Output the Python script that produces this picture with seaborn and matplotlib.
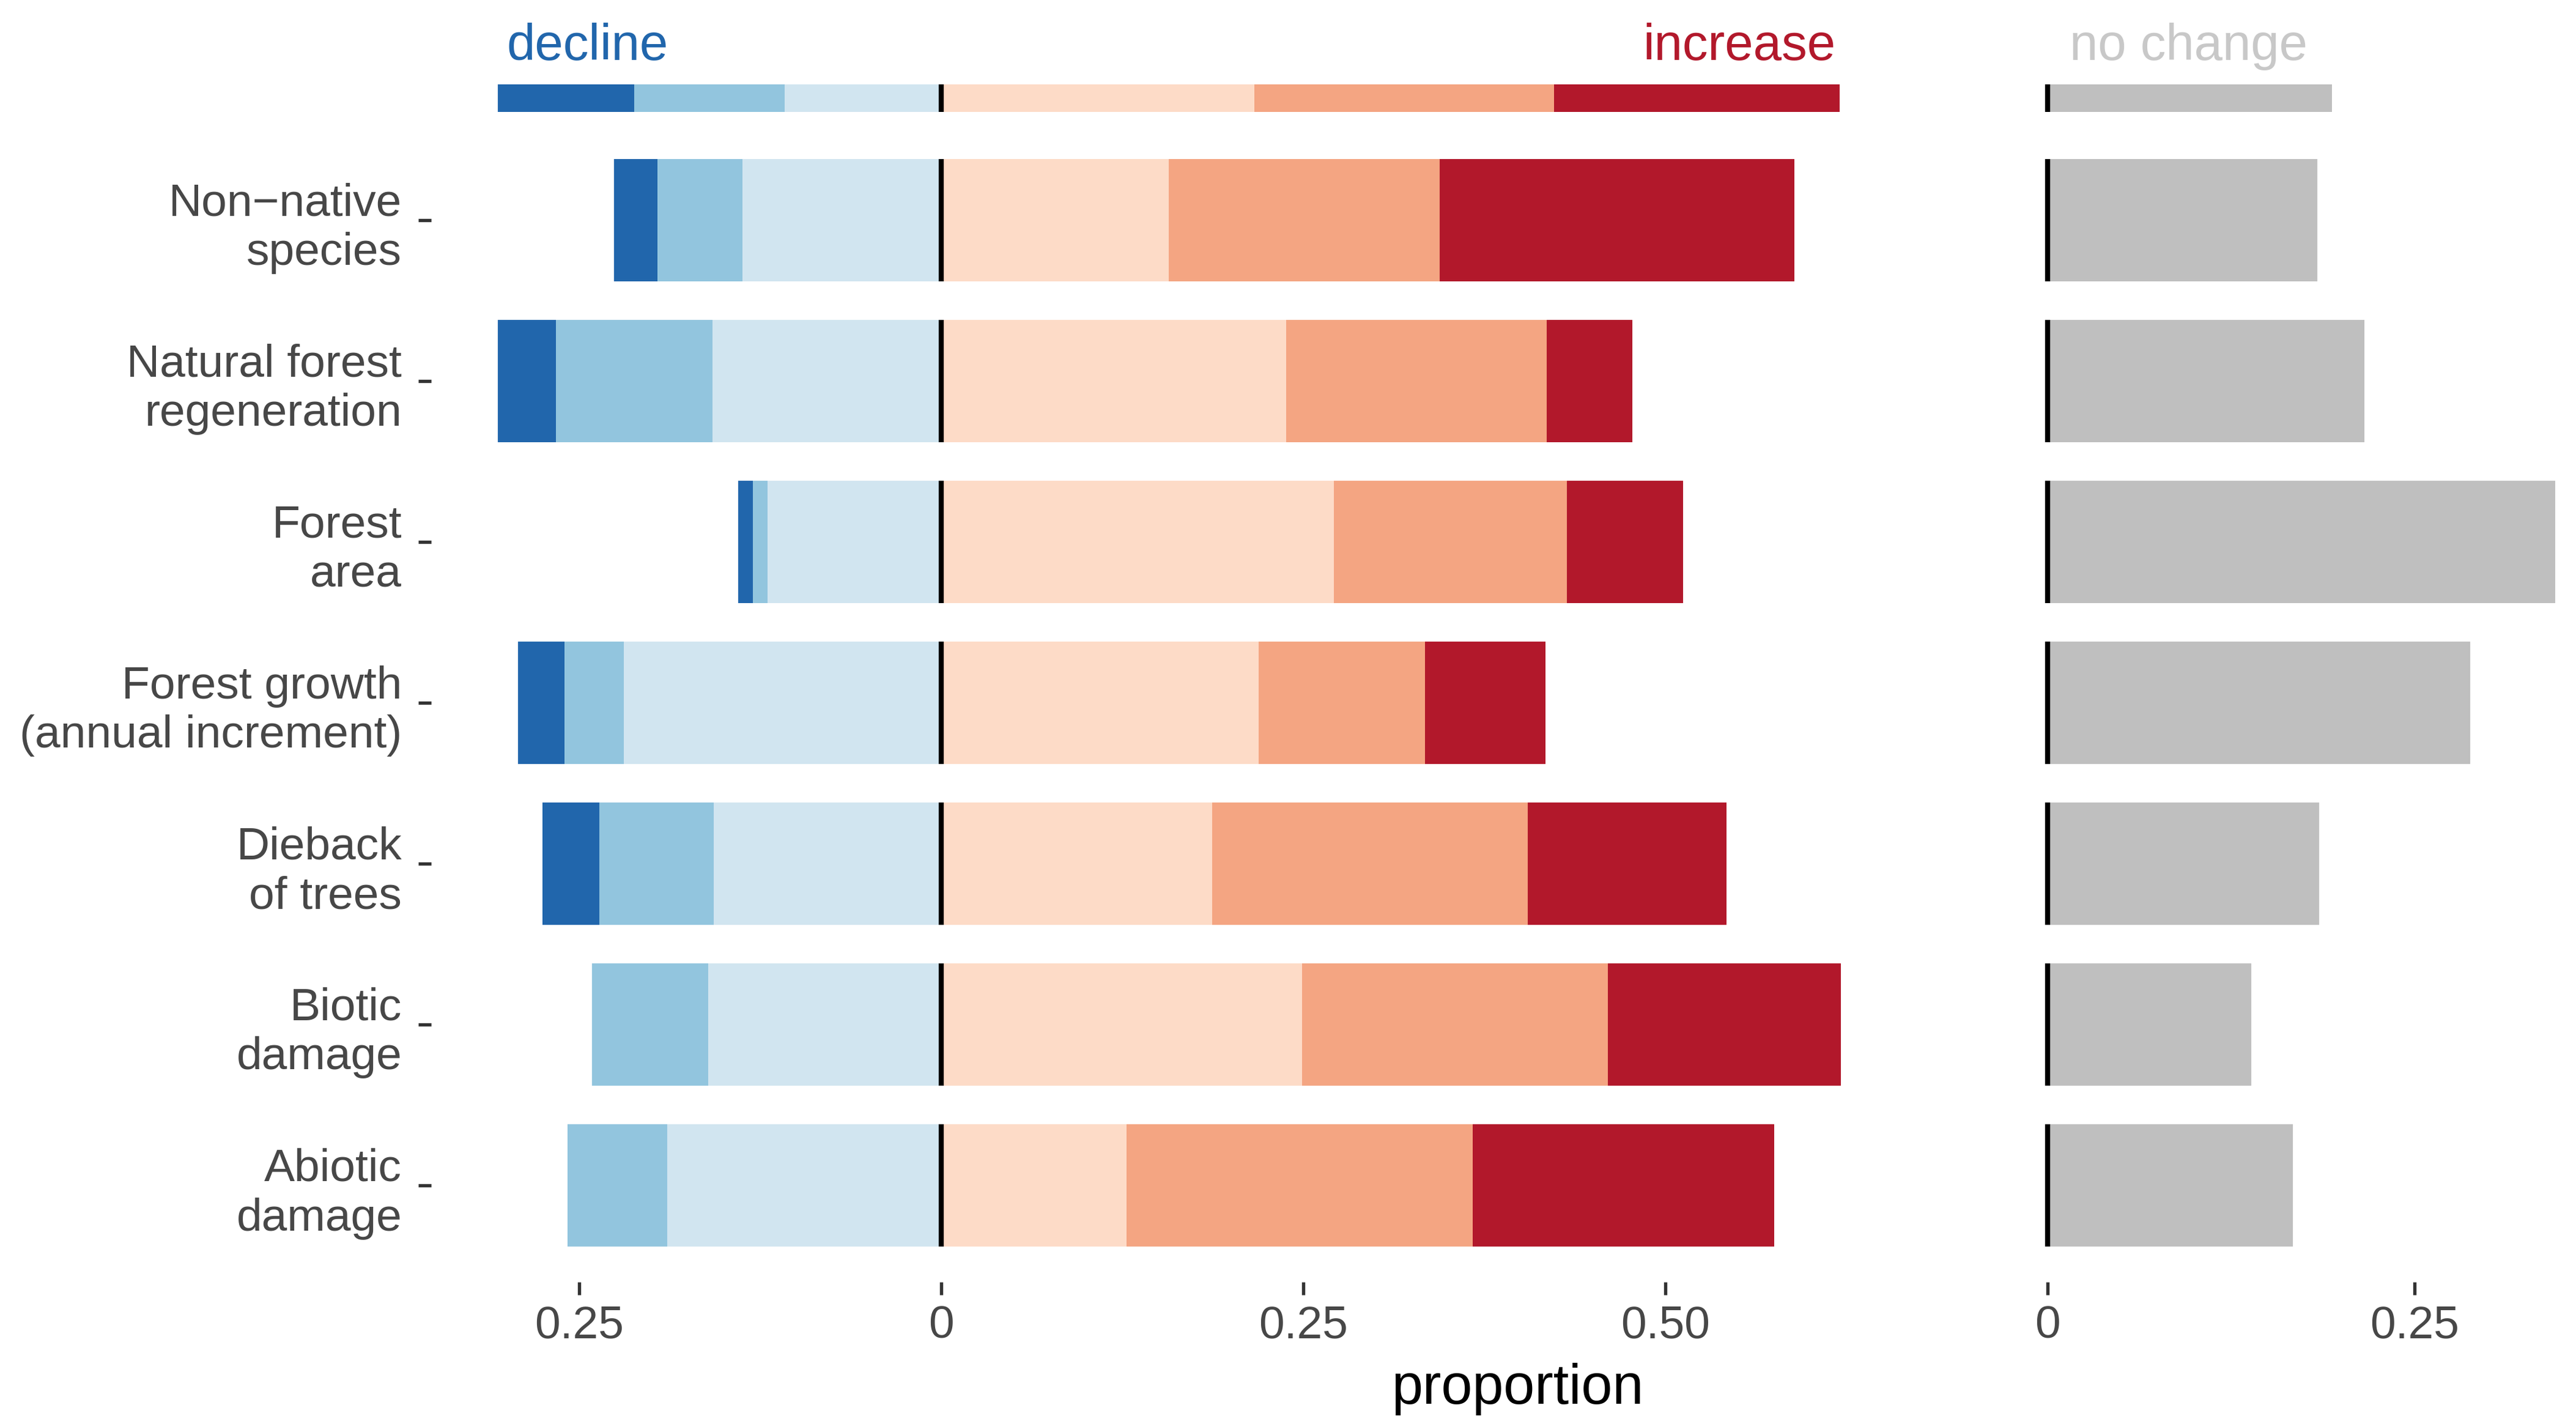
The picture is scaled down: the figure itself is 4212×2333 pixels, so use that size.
import numpy as np
import matplotlib
matplotlib.use("Agg")
import matplotlib.pyplot as plt
import seaborn as sns

# -----------------------------
# Data (proportions)
# -----------------------------
categories = [
    "Non\u2212native\nspecies",
    "Natural forest\nregeneration",
    "Forest\narea",
    "Forest growth\n(annual increment)",
    "Dieback\nof trees",
    "Biotic\ndamage",
    "Abiotic\ndamage",
]

decline_slight = [0.137, 0.158, 0.120, 0.219, 0.157, 0.161, 0.189]
decline_moderate = [0.059, 0.108, 0.010, 0.041, 0.079, 0.080, 0.069]
decline_strong = [0.030, 0.040, 0.010, 0.032, 0.039, 0.0, 0.0]

increase_slight = [0.157, 0.238, 0.271, 0.219, 0.187, 0.249, 0.128]
increase_moderate = [0.187, 0.180, 0.161, 0.115, 0.218, 0.211, 0.239]
increase_strong = [0.245, 0.059, 0.080, 0.083, 0.137, 0.161, 0.208]

no_change = [0.184, 0.216, 0.346, 0.288, 0.185, 0.139, 0.167]

# colour key strip on top
key_label = ["key"]
key_decline = [[0.108], [0.104], [0.094]]   # slight, moderate, strong
key_increase = [[0.216], [0.207], [0.197]]
key_no_change = [0.194]

blues = ["#d1e5f0", "#92c5de", "#2166ac"]
reds = ["#fddbc7", "#f4a582", "#b2182b"]
grey = "#bfbfbf"

left_ticks = [-0.25, 0, 0.25, 0.5]
left_ticklabels = ["0.25", "0", "0.25", "0.50"]
right_ticks = [0, 0.25]
right_ticklabels = ["0", "0.25"]

# -----------------------------
# Style
# -----------------------------
sns.set_theme(style="white")
plt.rcParams["font.family"] = ["Liberation Sans", "DejaVu Sans"]
text_grey = "#474747"

fig = plt.figure(figsize=(4212 / 300, 2333 / 300), dpi=300)

LEFT_X = (0.1674, 0.7405)
RIGHT_X = (0.7849, 1.0)
MAIN_Y = (0.1016, 0.9134)
KEY_Y = (0.9216, 0.9408)
LEFT_LIM = (-0.352, 0.667)
RIGHT_LIM = (-0.0173, 0.36)
BAR_W = 0.76


def stacked(ax, labels, parts, colors, sign, width):
    cum = np.cumsum(np.array(parts, dtype=float), axis=0)
    for level in range(len(parts) - 1, -1, -1):
        sns.barplot(x=sign * cum[level], y=labels, orient="h",
                    color=colors[level], width=width, saturation=1,
                    linewidth=0, errorbar=None, ax=ax)


def zero_line(ax, n, width):
    pos = np.arange(n)
    ax.vlines(np.zeros(n), pos - width / 2, pos + width / 2,
              color="black", lw=2.0, zorder=5)


def clean(ax):
    for s in ax.spines.values():
        s.set_visible(False)
    ax.set_xlabel("")
    ax.set_ylabel("")
    ax.grid(False)


# -----------------------------
# Main left panel (diverging stacked bars)
# -----------------------------
ax_l = fig.add_axes([LEFT_X[0], MAIN_Y[0], LEFT_X[1] - LEFT_X[0], MAIN_Y[1] - MAIN_Y[0]])
stacked(ax_l, categories, [decline_slight, decline_moderate, decline_strong], blues, -1, BAR_W)
stacked(ax_l, categories, [increase_slight, increase_moderate, increase_strong], reds, 1, BAR_W)
zero_line(ax_l, len(categories), BAR_W)
ax_l.set_xlim(*LEFT_LIM)
ax_l.set_ylim(len(categories) - 0.4, -0.6)
ax_l.set_xticks(left_ticks)
ax_l.set_xticklabels(left_ticklabels)
clean(ax_l)
ax_l.tick_params(axis="x", bottom=True, length=5, width=1.3, color="#333333",
                 pad=4, labelsize=18, labelcolor=text_grey)
ax_l.tick_params(axis="y", left=True, length=5, width=1.3, color="#333333",
                 pad=6.5, labelsize=18, labelcolor=text_grey)
for t in ax_l.get_yticklabels():
    t.set_multialignment("right")
    t.set_linespacing(1.22)

# -----------------------------
# Main right panel (no change)
# -----------------------------
ax_r = fig.add_axes([RIGHT_X[0], MAIN_Y[0], RIGHT_X[1] - RIGHT_X[0], MAIN_Y[1] - MAIN_Y[0]])
sns.barplot(x=no_change, y=categories, orient="h", color=grey, width=BAR_W,
            saturation=1, linewidth=0, errorbar=None, ax=ax_r)
zero_line(ax_r, len(categories), BAR_W)
ax_r.set_xlim(*RIGHT_LIM)
ax_r.set_ylim(len(categories) - 0.4, -0.6)
ax_r.set_xticks(right_ticks)
ax_r.set_xticklabels(right_ticklabels)
ax_r.set_yticks([])
clean(ax_r)
ax_r.tick_params(axis="x", bottom=True, length=5, width=1.3, color="#333333",
                 pad=4, labelsize=18, labelcolor=text_grey)

# -----------------------------
# Colour key strip
# -----------------------------
kx_l = fig.add_axes([LEFT_X[0], KEY_Y[0], LEFT_X[1] - LEFT_X[0], KEY_Y[1] - KEY_Y[0]])
stacked(kx_l, key_label, key_decline, blues, -1, 1.0)
stacked(kx_l, key_label, key_increase, reds, 1, 1.0)
zero_line(kx_l, 1, 1.0)
kx_l.set_xlim(*LEFT_LIM)
kx_l.set_ylim(0.5, -0.5)
kx_l.set_xticks([])
kx_l.set_yticks([])
clean(kx_l)

kx_r = fig.add_axes([RIGHT_X[0], KEY_Y[0], RIGHT_X[1] - RIGHT_X[0], KEY_Y[1] - KEY_Y[0]])
sns.barplot(x=key_no_change, y=key_label, orient="h", color=grey, width=1.0,
            saturation=1, linewidth=0, errorbar=None, ax=kx_r)
zero_line(kx_r, 1, 1.0)
kx_r.set_xlim(*RIGHT_LIM)
kx_r.set_ylim(0.5, -0.5)
kx_r.set_xticks([])
kx_r.set_yticks([])
clean(kx_r)

# key words
fig.text(0.1966, 0.958, "decline", color="#2166ac", fontsize=20, ha="left", va="baseline")
fig.text(0.7125, 0.958, "increase", color="#b2182b", fontsize=20, ha="right", va="baseline")
fig.text(0.8034, 0.958, "no change", color="#c8c8c8", fontsize=20, ha="left", va="baseline")

fig.text(0.589, 0.0165, "proportion", color="black", fontsize=22, ha="center", va="baseline")

plt.savefig("out.png", dpi=300)
plt.close()
